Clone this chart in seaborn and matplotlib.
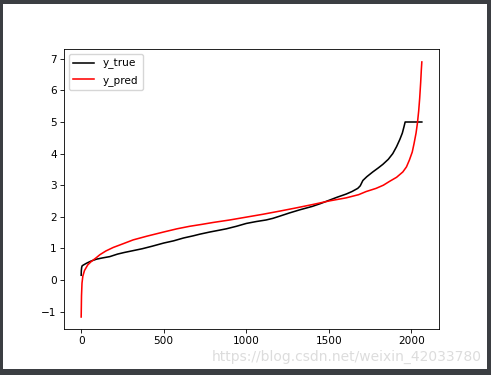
import matplotlib
matplotlib.use("Agg")
import matplotlib.pyplot as plt
from matplotlib.patches import Rectangle
import seaborn as sns
import pandas as pd

# sorted sample index knots and values
true_x = [0, 1, 3, 6, 15, 32, 60, 93, 130, 173, 220, 260, 315, 370, 430, 500, 560, 620,
          680, 718, 780, 840, 879, 940, 1000, 1060, 1120, 1160, 1202, 1260, 1323, 1400,
          1450, 1500, 1550, 1605, 1640, 1675, 1690, 1706, 1730, 1766, 1800, 1827, 1860,
          1887, 1910, 1930, 1945, 1955, 1962, 2063]
true_y = [0.15, 0.30, 0.40, 0.45, 0.48, 0.53, 0.60, 0.66, 0.70, 0.74, 0.82, 0.87, 0.93,
          0.99, 1.07, 1.17, 1.24, 1.33, 1.40, 1.45, 1.52, 1.58, 1.62, 1.70, 1.79, 1.85,
          1.90, 1.95, 2.02, 2.12, 2.22, 2.33, 2.42, 2.52, 2.62, 2.72, 2.80, 2.90, 2.98,
          3.15, 3.27, 3.42, 3.55, 3.66, 3.82, 4.00, 4.22, 4.45, 4.65, 4.85, 5.00, 5.00]
pred_x = [0, 2, 5, 10, 20, 40, 60, 90, 113, 150, 194, 250, 315, 400, 500, 580, 657, 730,
          798, 900, 1000, 1100, 1202, 1300, 1403, 1500, 1605, 1680, 1726, 1786, 1830,
          1867, 1910, 1948, 1970, 1988, 2005, 2016, 2028, 2036, 2044, 2050, 2056, 2060, 2063]
pred_y = [-1.17, -0.50, -0.10, 0.12, 0.30, 0.48, 0.58, 0.70, 0.80, 0.92, 1.03, 1.14, 1.27,
          1.39, 1.52, 1.62, 1.70, 1.76, 1.82, 1.90, 1.99, 2.08, 2.18, 2.28, 2.39, 2.50,
          2.60, 2.70, 2.80, 2.90, 3.00, 3.12, 3.25, 3.42, 3.58, 3.80, 4.05, 4.32, 4.65,
          4.95, 5.35, 5.75, 6.25, 6.65, 6.90]

x_ticks = [0, 500, 1000, 1500, 2000]
y_ticks = [-1, 0, 1, 2, 3, 4, 5, 6, 7]
series_labels = ["y_true", "y_pred"]

s = 0.757
plt.rcParams.update({
    "font.size": 10 * s,
    "lines.linewidth": 1.5 * s,
    "axes.linewidth": 0.8 * s,
    "xtick.major.width": 0.8 * s,
    "ytick.major.width": 0.8 * s,
    "xtick.major.size": 3.5 * s,
    "ytick.major.size": 3.5 * s,
    "xtick.major.pad": 3.5 * s,
    "ytick.major.pad": 3.5 * s,
})

fig = plt.figure(figsize=(4.91, 3.75), dpi=100, facecolor="#3b3e42")
bg = Rectangle((3 / 491, 6 / 375), 484 / 491, 365 / 375,
               transform=fig.transFigure, facecolor="white", edgecolor="none", zorder=-10)
fig.add_artist(bg)
ax = fig.add_axes([64 / 491, 46 / 375, 375 / 491, 280 / 375])
ax.set_zorder(1)

df_true = pd.DataFrame({"x": true_x, "y": true_y})
df_pred = pd.DataFrame({"x": pred_x, "y": pred_y})
sns.lineplot(data=df_true, x="x", y="y", ax=ax, color="black", label=series_labels[0],
             linewidth=1.5 * s, estimator=None, sort=False)
sns.lineplot(data=df_pred, x="x", y="y", ax=ax, color="red", label=series_labels[1],
             linewidth=1.5 * s, estimator=None, sort=False)

ax.set_xlim(-104, 2167)
ax.set_ylim(-1.55, 7.31)
ax.set_xticks(x_ticks)
ax.set_yticks(y_ticks)
ax.set_yticklabels(["\u22121" if v < 0 else str(v) for v in y_ticks])
ax.set_xlabel("")
ax.set_ylabel("")
ax.legend(loc="upper left", fontsize=10 * s)

fig.text(482 / 491, 18 / 375, "https://blog.csdn.net/weixin_42033780", ha="right",
         va="center", fontsize=10, color="#d9d9d9", alpha=0.9, zorder=5)

fig.savefig("out.png", dpi=100, facecolor=fig.get_facecolor())
